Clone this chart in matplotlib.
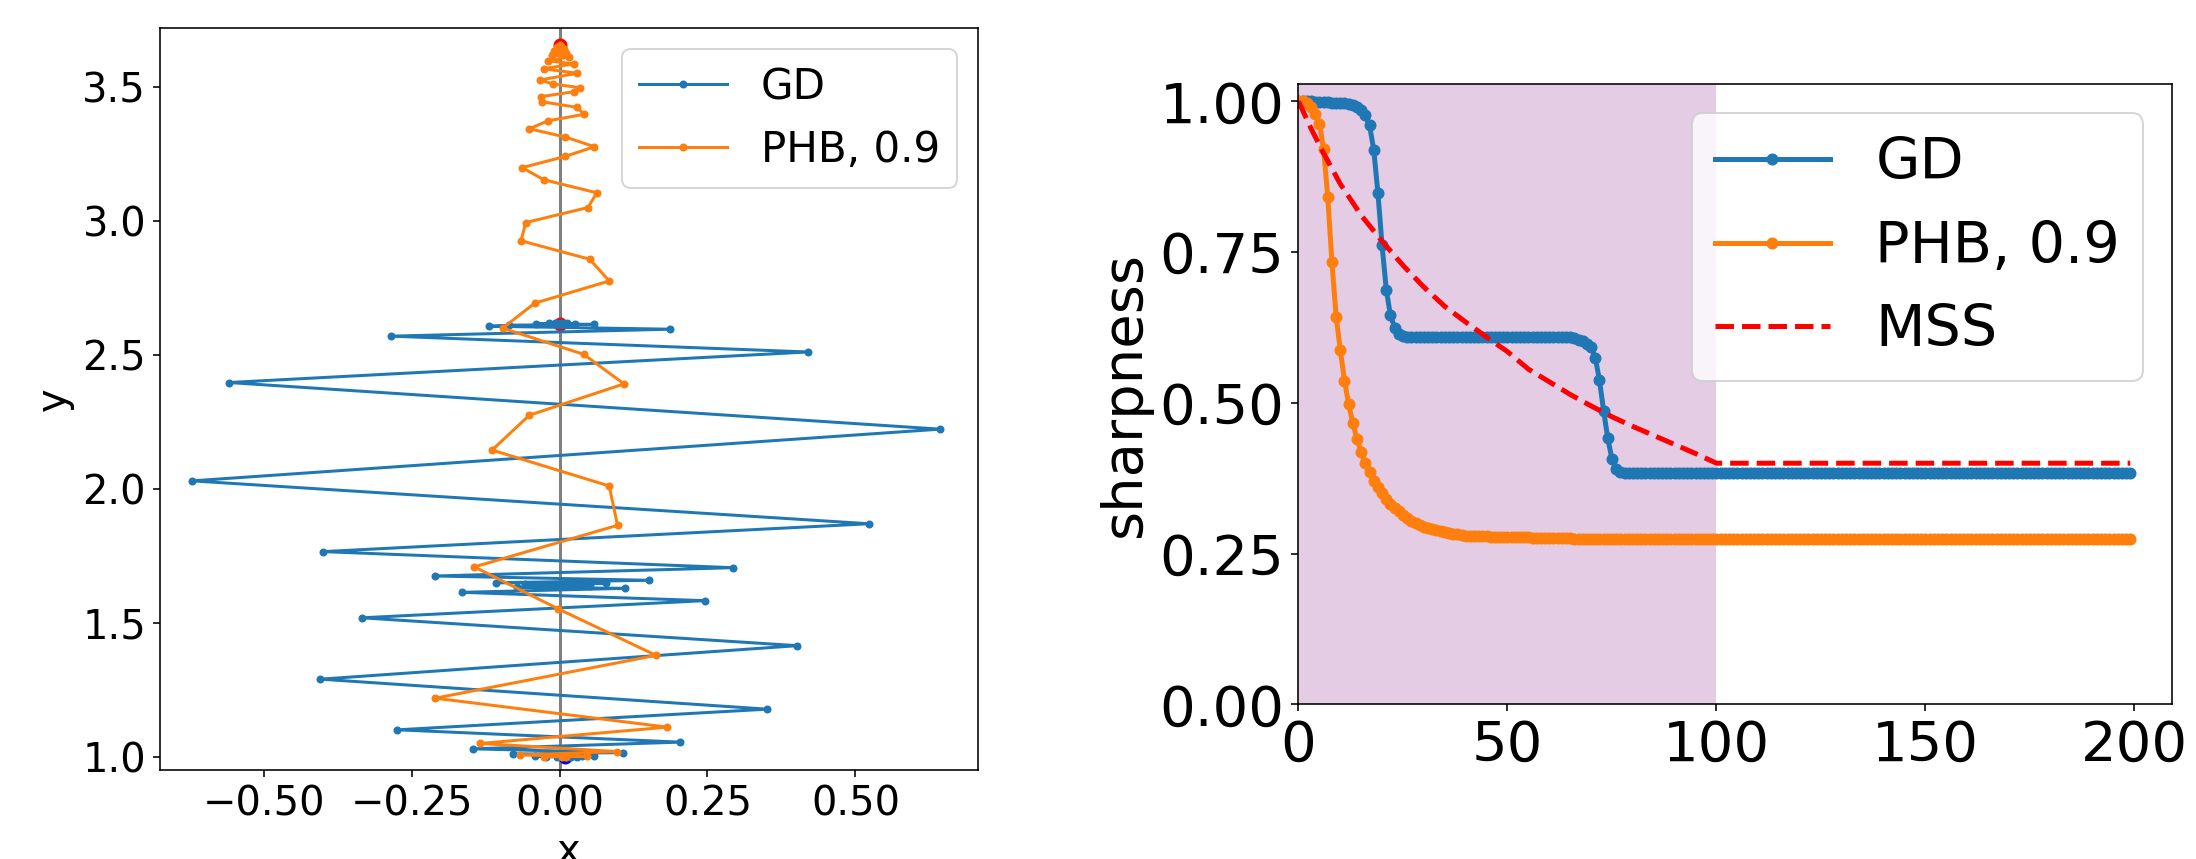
import matplotlib
matplotlib.use("Agg")
import matplotlib.pyplot as plt

# ---- left panel: 2D trajectories (x, y) ----
gd_x = [0.0, 0.002, -0.003, 0.005, -0.008, 0.012, -0.018, 0.027, -0.040, 0.058,
        -0.085, -0.120, 0.187, -0.285, 0.420, -0.559, 0.643, -0.621, 0.523, -0.400,
        0.294, -0.210, 0.152, -0.107, 0.078, -0.058, 0.045, -0.038, 0.036, -0.042,
        0.052, -0.072, 0.111, -0.165, 0.246, -0.334, 0.402, -0.404, 0.351, -0.274,
        0.204, -0.147, 0.108, -0.078, 0.059, -0.042, 0.038, -0.022, 0.030, -0.005,
        0.020, 0.010]
gd_y = [2.614, 2.617, 2.618, 2.618, 2.618, 2.617, 2.617, 2.616, 2.615, 2.613,
        2.610, 2.606, 2.595, 2.569, 2.510, 2.396, 2.222, 2.029, 1.869, 1.765,
        1.705, 1.674, 1.658, 1.649, 1.646, 1.644, 1.642, 1.640, 1.639, 1.637,
        1.635, 1.632, 1.628, 1.613, 1.582, 1.518, 1.414, 1.289, 1.177, 1.100,
        1.054, 1.029, 1.015, 1.009, 1.004, 1.002, 1.001, 1.000, 1.000, 1.000,
        1.000, 1.000]

phb_x = [0.0, 0.003, -0.005, 0.007, -0.009, 0.011, -0.013, 0.016, -0.020, 0.024,
         -0.027, 0.030, -0.033, -0.011, 0.035, 0.024, -0.031, -0.030, 0.029, 0.042,
         -0.019, -0.051, 0.010, 0.059, 0.010, -0.063, -0.027, 0.063, 0.048, -0.057,
         -0.065, 0.051, 0.084, -0.042, -0.096, 0.041, 0.109, -0.051, -0.114, 0.084,
         0.098, -0.144, -0.002, 0.163, -0.210, 0.182, -0.134, 0.097, -0.066, 0.047,
         -0.027, 0.011, 0.005]
phb_y = [3.656, 3.653, 3.648, 3.642, 3.635, 3.627, 3.619, 3.610, 3.597, 3.585,
         3.567, 3.550, 3.525, 3.510, 3.496, 3.481, 3.463, 3.444, 3.423, 3.397,
         3.373, 3.343, 3.312, 3.276, 3.240, 3.198, 3.153, 3.104, 3.049, 2.993,
         2.925, 2.856, 2.775, 2.692, 2.599, 2.501, 2.391, 2.274, 2.144, 2.010,
         1.863, 1.708, 1.551, 1.378, 1.218, 1.110, 1.049, 1.019, 1.006, 1.001,
         1.000, 1.000, 1.000]

start_x = [0.0, 0.0]
start_y = [2.614, 3.656]
end_x = [0.01]
end_y = [1.0]

# ---- right panel: sharpness per step ----
gd_sharp = ([1.0, 1.0, 1.0, 1.0, 0.999, 0.999, 0.999, 0.999, 0.998, 0.998,
             0.997, 0.997, 0.996, 0.994, 0.991, 0.986, 0.978, 0.960, 0.920, 0.848,
             0.761, 0.688, 0.645, 0.625, 0.615, 0.611]
            + [0.609] * 40
            + [0.607, 0.605, 0.602, 0.598, 0.593, 0.575, 0.538, 0.487, 0.441, 0.407,
               0.391, 0.386, 0.384]
            + [0.383] * 121)
phb_sharp = ([1.0, 1.0, 0.997, 0.990, 0.979, 0.963, 0.921, 0.842, 0.733, 0.643,
              0.588, 0.537, 0.498, 0.466, 0.440, 0.418, 0.400, 0.385, 0.371, 0.360,
              0.350, 0.341, 0.333, 0.326, 0.320, 0.314, 0.309, 0.305, 0.301, 0.298,
              0.295, 0.293, 0.291, 0.289, 0.287, 0.286, 0.284, 0.283, 0.282, 0.281,
              0.280]
             + [0.279] * 5 + [0.278] * 5 + [0.277] * 5 + [0.276] * 10
             + [0.275] * 134)
steps = list(range(len(gd_sharp)))

mss_steps = [0, 3, 6, 10, 15, 20, 25, 30, 35, 40, 45, 50, 55, 60, 65, 70, 75, 80,
             85, 90, 95, 100, 199]
mss_vals = [1.0, 0.955, 0.914, 0.863, 0.811, 0.768, 0.728, 0.692, 0.660, 0.634,
            0.609, 0.585, 0.556, 0.535, 0.514, 0.495, 0.477, 0.461, 0.446, 0.431,
            0.416, 0.400, 0.400]

fig = plt.figure(figsize=(2196 / 144, 859 / 144), dpi=144)

# left: trajectories
ax1 = fig.add_axes([0.0729, 0.1036, 0.3724, 0.8635])
ax1.axvline(0, color="gray", zorder=1)
ax1.plot(start_x, start_y, "ro", zorder=1.5)
ax1.plot(end_x, end_y, "bo", zorder=1.5)
ax1.plot(gd_x, gd_y, marker=".", label="GD")
ax1.plot(phb_x, phb_y, marker=".", label="PHB, 0.9")
ax1.set_xlim(-0.675, 0.707)
ax1.set_ylim(0.95, 3.718)
ax1.set_xlabel("x", fontsize=20)
ax1.set_ylabel("y", fontsize=20)
ax1.tick_params(labelsize=20)
ax1.legend(loc="upper right", fontsize=21, handlelength=2.1)

# right: sharpness
ax2 = fig.add_axes([0.5913, 0.1799, 0.3977, 0.7218])
ax2.axvspan(0, 100, color="purple", alpha=0.2, lw=0)
ax2.plot(steps, gd_sharp, marker="o", lw=2.5, ms=5, label="GD")
ax2.plot(steps, phb_sharp, marker="o", lw=2.5, ms=5, label="PHB, 0.9")
ax2.plot(mss_steps, mss_vals, "r--", lw=2.5, label="MSS")
ax2.set_xlim(0, 208.95)
ax2.set_ylim(0, 1.028)
ax2.set_yticks([0, 0.25, 0.5, 0.75, 1.0])
ax2.set_ylabel("sharpness", fontsize=28)
ax2.tick_params(labelsize=28)
ax2.legend(loc="upper right", fontsize=28.7)

fig.savefig("out.png", dpi=144)
